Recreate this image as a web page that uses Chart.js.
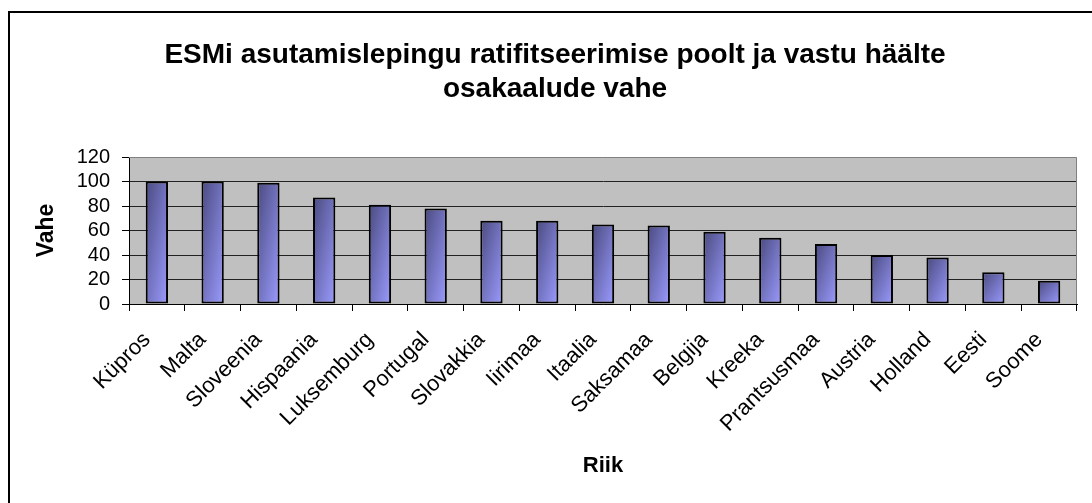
<!DOCTYPE html>
<html>
<head>
<meta charset="utf-8">
<script src="https://cdn.jsdelivr.net/npm/chart.js@4/dist/chart.umd.min.js"></script>
<style>
    html, body { margin: 0; padding: 0; background: #fff; }
    #wrap { width: 1092px; height: 503px; }
</style>
</head>
<body>
<div id="wrap"><canvas id="esmChart" width="1092" height="503"></canvas></div>
<script>
// Data
const countries = ['Küpros', 'Malta', 'Sloveenia', 'Hispaania', 'Luksemburg', 'Portugal', 'Slovakkia',
    'Iirimaa', 'Itaalia', 'Saksamaa', 'Belgija', 'Kreeka', 'Prantsusmaa', 'Austria', 'Holland', 'Eesti', 'Soome'];
const diffValues = [100, 100, 99, 87, 81, 78, 68, 68, 65, 64, 59, 54, 49, 40, 38, 26, 19];
const titleLines = ['ESMi asutamislepingu ratifitseerimise poolt ja vastu häälte', 'osakaalude vahe'];

const FONT = '"Liberation Sans", Arial, sans-serif';
const BAR_PCT = 0.4;

// Excel-like diagonal gradient per bar (dark top-left -> light bottom-right)
function barGradient(ctx) {
    const chart = ctx.chart;
    if (ctx.type !== 'data' || !chart.chartArea) return '#8080e0';
    const xs = chart.scales.x, ys = chart.scales.y;
    const cx = xs.getPixelForValue(ctx.dataIndex);
    const w = xs.width / countries.length * BAR_PCT;
    const top = ys.getPixelForValue(ctx.raw);
    const base = ys.getPixelForValue(0);
    const h = Math.max(1, base - top);
    const cy = (top + base) / 2;
    const len = Math.sqrt(w * w + h * h);
    const d = w * h / len;
    const ux = h / len, uy = w / len;
    const g = chart.ctx.createLinearGradient(cx - d * ux, cy - d * uy, cx + d * ux, cy + d * uy);
    g.addColorStop(0, '#4a4a80');
    g.addColorStop(1, '#9b9bff');
    return g;
}

// Grey plot background, frame of the chart and grey top/right plot border
const plotDecor = {
    id: 'plotDecor',
    beforeDraw(chart) {
        const { ctx, chartArea: a } = chart;
        ctx.save();
        ctx.fillStyle = '#000';
        ctx.fillRect(8, 11, 2, chart.height);
        ctx.fillRect(8, 11, chart.width, 2);
        ctx.fillStyle = '#c0c0c0';
        ctx.fillRect(a.left, a.top, a.right - a.left, a.bottom - a.top);
        ctx.restore();
    },
    afterDatasetsDraw(chart) {
        const { ctx, chartArea: a } = chart;
        ctx.save();
        ctx.strokeStyle = '#808080';
        ctx.lineWidth = 1;
        ctx.beginPath();
        ctx.moveTo(a.left, a.top + 0.5);
        ctx.lineTo(a.right - 0.5, a.top + 0.5);
        ctx.lineTo(a.right - 0.5, a.bottom);
        ctx.stroke();
        ctx.restore();
    }
};

new Chart(document.getElementById('esmChart'), {
    type: 'bar',
    data: {
        labels: countries,
        datasets: [{
            label: 'Vahe',
            data: diffValues,
            backgroundColor: barGradient,
            borderColor: '#000',
            borderWidth: 2,
            borderSkipped: false,
            categoryPercentage: 1,
            barPercentage: BAR_PCT
        }]
    },
    options: {
        responsive: false,
        animation: false,
        layout: { padding: { left: 33, right: 15, top: 0, bottom: 0 } },
        plugins: {
            legend: { display: false },
            tooltip: { enabled: false },
            title: {
                display: true,
                text: titleLines,
                color: '#000',
                font: { family: FONT, size: 28, weight: 'bold', lineHeight: 34 / 28 },
                padding: { top: 38, bottom: 51 }
            }
        },
        scales: {
            x: {
                afterFit: s => { s.height = 199; },
                grid: { offset: true, drawOnChartArea: false, color: '#000', tickLength: 7 },
                border: { color: '#000', width: 1 },
                ticks: {
                    color: '#000',
                    font: { family: FONT, size: 22 },
                    minRotation: 45,
                    maxRotation: 45,
                    autoSkip: false,
                    padding: 16,
                    labelOffset: -10
                },
                title: {
                    display: true,
                    text: 'Riik',
                    color: '#000',
                    font: { family: FONT, size: 22, weight: 'bold' },
                    padding: { top: 0, bottom: 24 }
                }
            },
            y: {
                min: 0,
                max: 120,
                afterFit: s => { s.width = 96; },
                grid: {
                    color: c => (c.tick && c.tick.value === 120 ? 'rgba(0,0,0,0)' : '#222'),
                    tickColor: '#000',
                    tickLength: 7
                },
                border: { color: '#000', width: 1 },
                ticks: {
                    stepSize: 20,
                    autoSkip: false,
                    color: '#000',
                    font: { family: FONT, size: 20 },
                    padding: 12
                },
                title: {
                    display: true,
                    text: 'Vahe',
                    color: '#000',
                    font: { family: FONT, size: 23, weight: 'bold' },
                    padding: { top: 0, bottom: 0 }
                }
            }
        }
    },
    plugins: [plotDecor]
});
</script>
</body>
</html>
